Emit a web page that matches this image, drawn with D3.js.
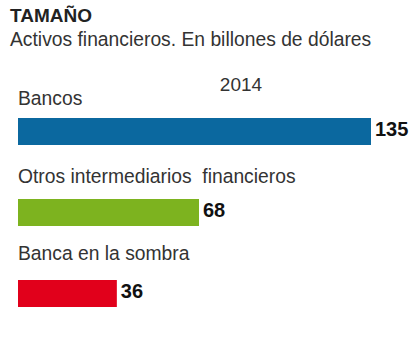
<!DOCTYPE html>
<html>
<head>
<meta charset="utf-8">
<script src="https://cdn.jsdelivr.net/npm/d3@7"></script>
<style>
  body { margin: 0; background: #fff; }
  text { font-family: "Liberation Sans", Arial, sans-serif; }
</style>
</head>
<body>
<script>
var width = 414
var height = 345

var categories = ["Bancos", "Otros intermediarios\u00a0 financieros", "Banca en la sombra"]
var values = [135, 68, 36]
var colors = ["#0b689f", "#7db31f", "#e1001b"]
var year = "2014"

var svg = d3.select("body").append("svg")
  .attr("width", width)
  .attr("height", height)

// bars in the original start a little left of the scale's zero
var x = d3.scaleLinear().domain([-2.5, 135]).range([18, 371])
var y = d3.scalePoint().domain(categories).range([118, 280])
var yLabel = d3.scalePoint().domain(categories).range([105, 260])
var barH = 27

svg.append("text")
  .attr("x", 10).attr("y", 22)
  .style("font-size", "19px").style("font-weight", "bold").style("fill", "#222")
  .text("TAMAÑO")

svg.append("text")
  .attr("x", 10).attr("y", 46)
  .style("font-size", "19.3px").style("fill", "#333")
  .text("Activos financieros. En billones de dólares")

svg.append("text")
  .attr("x", 241).attr("y", 91)
  .attr("text-anchor", "middle")
  .style("font-size", "19px").style("fill", "#333")
  .text(year)

var row = svg.selectAll(".row")
  .data(categories)
  .enter().append("g")
  .attr("class", "row")

row.append("text")
  .attr("x", 18)
  .attr("y", function (d) { return yLabel(d) })
  .style("font-size", "19.3px").style("fill", "#333")
  .text(function (d) { return d })

row.append("rect")
  .attr("x", x.range()[0])
  .attr("y", function (d) { return y(d) })
  .attr("width", function (d, i) { return x(values[i]) - x.range()[0] })
  .attr("height", barH)
  .style("fill", function (d, i) { return colors[i] })

row.append("text")
  .attr("x", function (d, i) { return x(values[i]) + 4 })
  .attr("y", function (d) { return y(d) + 18 })
  .style("font-size", "20px").style("font-weight", "bold").style("fill", "#111")
  .text(function (d, i) { return values[i] })
</script>
</body>
</html>
